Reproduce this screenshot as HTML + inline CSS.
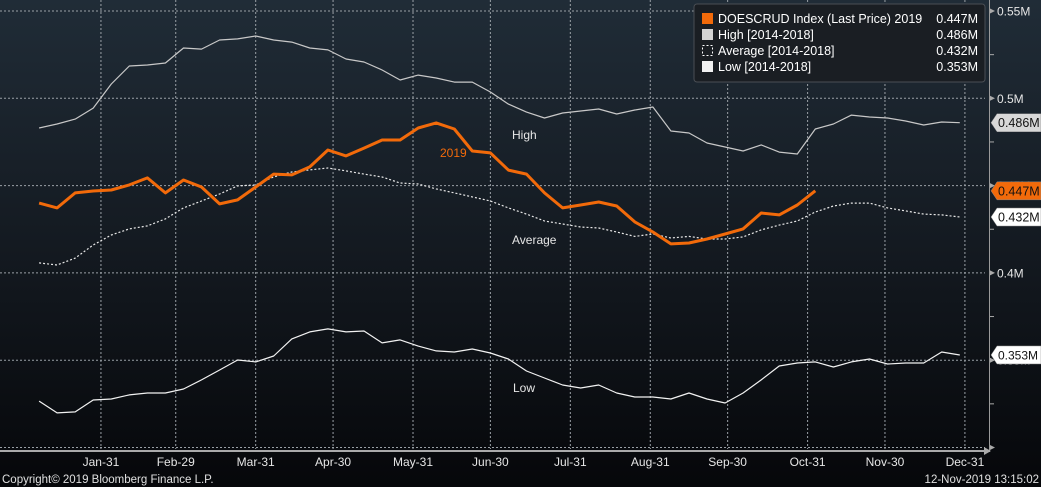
<!DOCTYPE html>
<html><head><meta charset="utf-8">
<style>
html,body{margin:0;padding:0;background:#000;}
svg{display:block;font-family:"Liberation Sans",sans-serif;}
</style></head>
<body>
<svg id="chart" width="1041" height="487" viewBox="0 0 1041 487" xmlns="http://www.w3.org/2000/svg">
<defs>
<linearGradient id="bg" x1="0" y1="0" x2="0" y2="1">
<stop offset="0" stop-color="#202c37"/>
<stop offset="0.5" stop-color="#141a21"/>
<stop offset="1" stop-color="#06070a"/>
</linearGradient>
</defs>
<rect x="0" y="0" width="1041" height="487" fill="url(#bg)"/>
<g id="grid"></g>
<g id="series"></g>
<g id="axes"></g>
<text x="512" y="139" fill="#e6e6e6" font-size="12">High</text>
<text x="440" y="157" fill="#f26a0a" font-size="12">2019</text>
<text x="512" y="244" fill="#e6e6e6" font-size="12">Average</text>
<text x="513" y="392" fill="#e6e6e6" font-size="12">Low</text>
<g>
<rect x="694" y="4" width="291" height="78" rx="3" fill="#1a1e23" stroke="#4a4e54"/>
<rect x="702" y="13" width="11" height="11" fill="#f26a0a"/>
<text x="718" y="23" fill="#fff" font-size="12.5">DOESCRUD Index (Last Price) 2019</text>
<text x="978" y="23" fill="#fff" font-size="12.5" text-anchor="end">0.447M</text>
<rect x="702" y="29" width="11" height="11" fill="#d4d4d4"/>
<text x="718" y="39" fill="#fff" font-size="12.5">High [2014-2018]</text>
<text x="978" y="39" fill="#fff" font-size="12.5" text-anchor="end">0.486M</text>
<rect x="702.5" y="45.5" width="10" height="10" fill="none" stroke="#fff" stroke-dasharray="2,2"/>
<text x="718" y="55" fill="#fff" font-size="12.5">Average [2014-2018]</text>
<text x="978" y="55" fill="#fff" font-size="12.5" text-anchor="end">0.432M</text>
<rect x="702" y="61" width="11" height="11" fill="#f2f2f2"/>
<text x="718" y="71" fill="#fff" font-size="12.5">Low [2014-2018]</text>
<text x="978" y="71" fill="#fff" font-size="12.5" text-anchor="end">0.353M</text>
</g>
<text x="2" y="483" fill="#e0e0e0" font-size="11.5">Copyright© 2019 Bloomberg Finance L.P.</text>
<text x="1039" y="483" fill="#e0e0e0" font-size="11.5" text-anchor="end">12-Nov-2019 13:15:02</text>
</svg>
<script>
// values in thousands of barrels (display in M)
const xTickLabels = ["Jan-31","Feb-29","Mar-31","Apr-30","May-31","Jun-30","Jul-31","Aug-31","Sep-30","Oct-31","Nov-30","Dec-31"];
const xTickDays = [31,60,91,121,152,182,213,244,274,305,335,366];
const yTickValues = [550,500,450,400,350,300];
const yTickLabels = ["0.55M","0.5M","0.45M","0.4M","0.35M",""];
const series2019 = [440.0,437.2,445.8,446.9,447.5,450.4,454.4,445.8,453.2,449.2,439.5,441.8,449.2,456.6,456.1,460.7,470.4,467.0,471.5,476.1,476.1,483.0,485.9,482.4,469.8,468.7,458.9,456.6,445.8,437.2,438.9,440.6,438.3,429.2,423.4,416.6,417.1,419.4,422.3,425.2,434.3,433.2,438.9,447.0];
const seriesHigh = [483.0,485.3,488.1,494.4,508.2,518.5,519.1,520.2,528.8,528.2,533.4,534.0,535.7,533.4,532.2,528.8,527.7,522.5,520.8,516.2,510.5,513.3,511.6,509.3,509.3,503.6,496.7,492.1,488.7,491.6,492.7,493.9,491.0,493.3,495.0,481.3,480.1,474.4,472.1,469.8,473.3,469.2,468.1,482.4,485.3,490.4,489.3,488.7,487.0,484.7,486.4,486.0];
const seriesAvg = [405.7,404.5,408.5,416.0,421.7,425.2,426.9,430.9,437.2,441.2,445.2,449.8,450.4,455.0,457.8,459.0,460.1,458.4,456.6,454.9,451.5,450.9,448.1,445.8,443.5,441.2,437.2,433.7,429.7,428.0,426.3,425.7,423.4,420.9,422.3,420.0,420.9,419.4,419.4,420.6,424.6,427.4,429.7,434.9,438.3,440.0,440.0,437.2,435.5,433.7,433.2,432.0];
const seriesLow = [326.6,319.8,320.4,327.2,327.8,330.1,331.2,331.2,333.5,338.7,344.4,350.1,349.0,352.4,362.2,366.2,367.9,366.2,366.7,359.9,361.6,358.1,355.3,354.7,356.4,354.1,350.7,343.8,339.8,335.8,334.1,335.8,331.2,328.9,328.9,327.8,331.2,327.8,325.5,331.2,338.7,346.7,348.4,349.0,346.1,349.0,350.7,347.8,348.4,348.4,354.7,353.0];

const NS="http://www.w3.org/2000/svg";
const xScale = d => 21 + d*2.579;
const yScale = v => 11 + (550 - v)/50*87.3;
const dayOf = i => 7 + 7*i;
function mk(tag, attrs, parent){const e=document.createElementNS(NS,tag);for(const k in attrs)e.setAttribute(k,attrs[k]);parent.appendChild(e);return e;}
const grid=document.getElementById('grid'), ser=document.getElementById('series'), axes=document.getElementById('axes');

yTickValues.forEach((v,i)=>{
  const y=yScale(v);
  const l=mk('line',{x1:0,x2:985,y1:y,y2:y,stroke:'#9aa0a6','stroke-width':1,'stroke-dasharray':'2,2'},grid);
  
  
  if(yTickLabels[i]){
    const t=mk('text',{x:997,y:y+4.5,fill:'#e6e6e6','font-size':12},axes);
    t.textContent=yTickLabels[i];
    
    
  }
  mk('path',{d:`M989 ${y-3}L995 ${y}L989 ${y+3}Z`,fill:'#aaa'},axes);
  if(i<yTickValues.length-1){const m=yScale(v-25);mk('line',{x1:989,x2:994,y1:m,y2:m,stroke:'#aaa'},axes);}
});
xTickDays.forEach((d,i)=>{
  const x=xScale(d);
  const l=mk('line',{x1:x,x2:x,y1:0,y2:449,stroke:'#9aa0a6','stroke-width':1,'stroke-dasharray':'2,2'},grid);
  
  
  const t=mk('text',{x:x,y:466,fill:'#e6e6e6','font-size':12,'text-anchor':'middle'},axes);
  t.textContent=xTickLabels[i];
  
  
});
const ax=mk('line',{x1:989.5,x2:989.5,y1:0,y2:452,stroke:'#9a9a9a'},axes);


const bx=mk('line',{x1:0,x2:984,y1:451,y2:451,stroke:'#e0e0e0','stroke-width':1.5},axes);


mk('path',{d:'M984 447L991 451L984 455Z',fill:'#aaa'},axes);

function line(data,attrs,name){
  const pts=data.map((v,i)=>xScale(dayOf(i)).toFixed(1)+','+yScale(v).toFixed(1)).join(' ');
  const p=mk('polyline',Object.assign({points:pts,fill:'none','stroke-linejoin':'round'},attrs),ser);
  
  
}
line(seriesHigh,{stroke:'#c8c8c8','stroke-width':1.2},'high-line');
line(seriesAvg,{stroke:'#e8e8e8','stroke-width':1.2,'stroke-dasharray':'2,2'},'average-line');
line(seriesLow,{stroke:'#f2f2f2','stroke-width':1.2},'low-line');
line(series2019,{stroke:'#f26a0a','stroke-width':3},'series-2019-line');

function tag(v,bg,fg,name,fs){
  const y=yScale(v);
  const g=mk('g',{},axes);
  
  
  mk('path',{d:`M991 ${y}L997 ${y-9}H1041V${y+9}H997Z`,fill:bg,stroke:'#888','stroke-width':0.5},g);
  const t=mk('text',{x:998,y:y+4.5,fill:fg,'font-size':fs||12.5},g);
  t.textContent=(v/1000).toFixed(3)+'M';
}
tag(seriesHigh[seriesHigh.length-1],'#d8d8d8','#111','high-value-tag');
tag(series2019[series2019.length-1],'#f26a0a','#111','last-price-tag');
tag(seriesAvg[seriesAvg.length-1],'#ffffff','#111','average-value-tag');
tag(seriesLow[seriesLow.length-1],'#ffffff','#111','low-value-tag',12);
</script>
</body></html>
